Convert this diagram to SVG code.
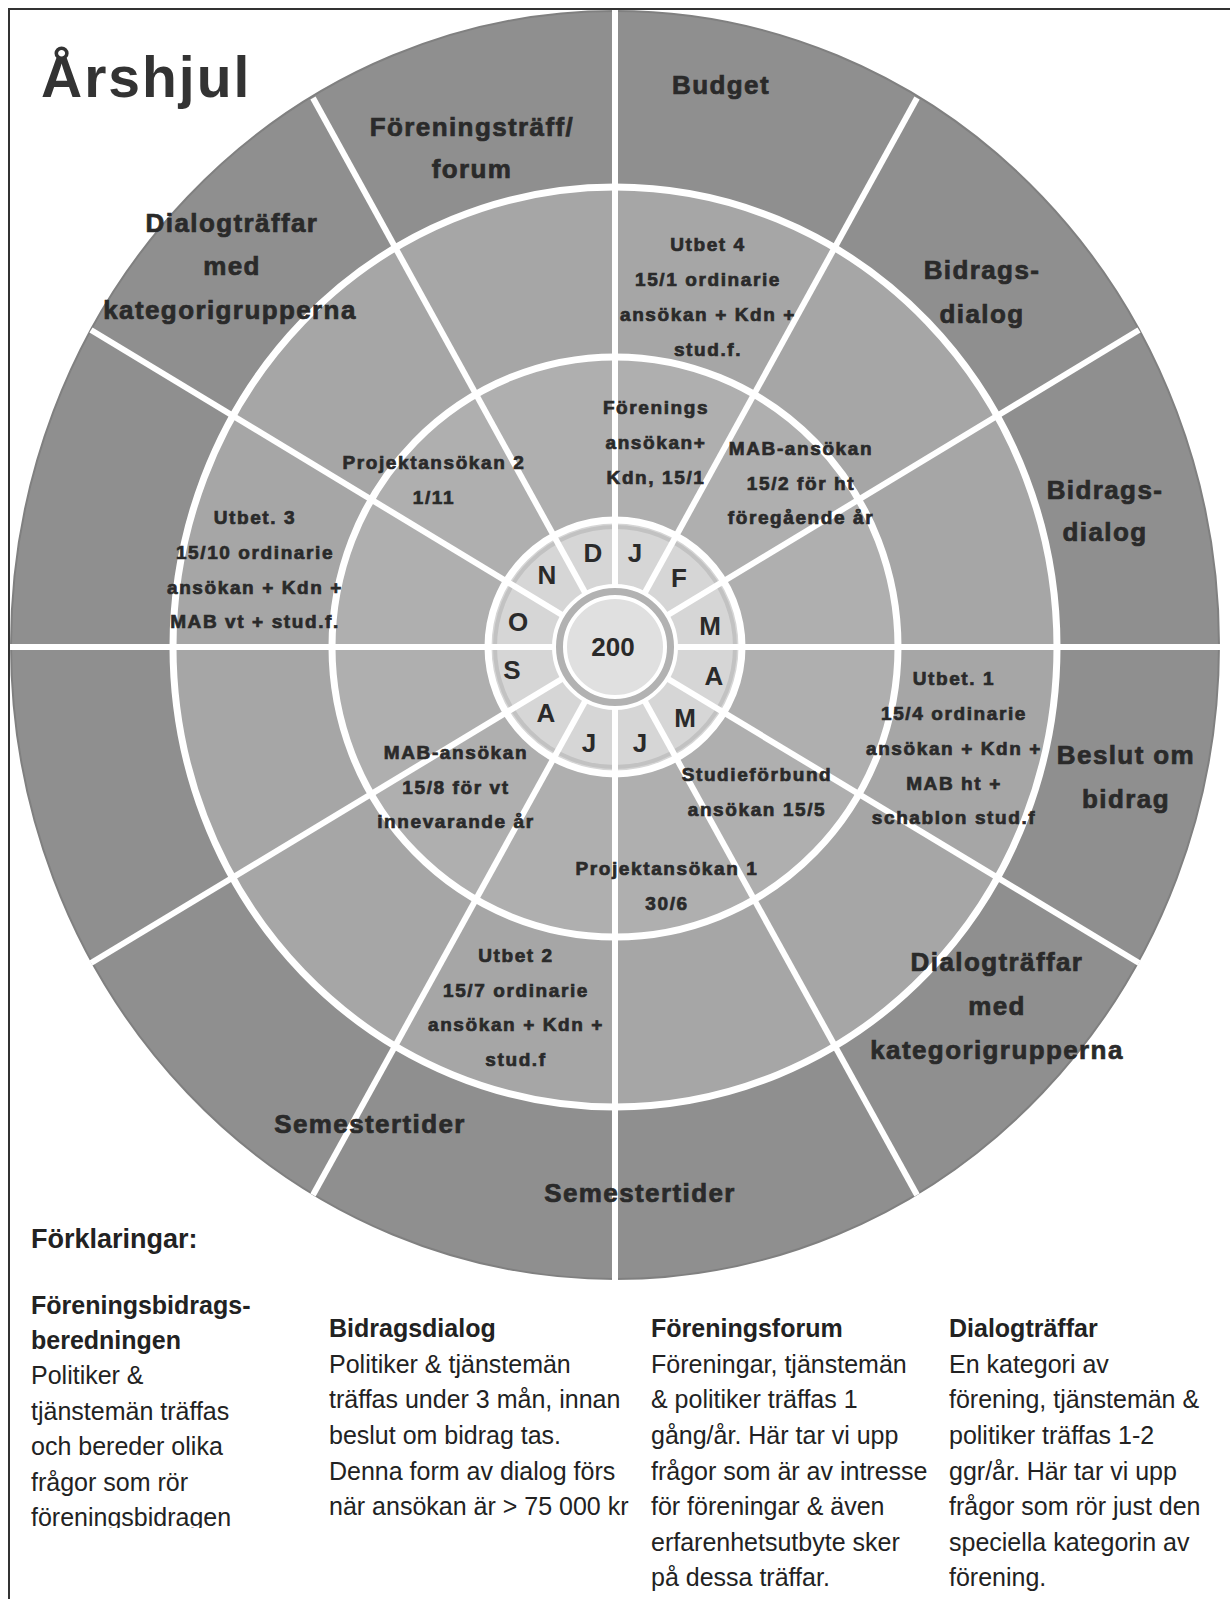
<svg xmlns="http://www.w3.org/2000/svg" width="1230" height="1599" viewBox="0 0 1230 1599">
<style>
text{font-family:"Liberation Sans",Arial,sans-serif;fill:#2a2a2a}
.o{font-size:26px;font-weight:bold;letter-spacing:1.4px;text-anchor:middle;stroke:#2a2a2a;stroke-width:0.7px}
.i{font-size:19px;font-weight:bold;letter-spacing:1.6px;text-anchor:middle;stroke:#2a2a2a;stroke-width:0.7px}
.m{font-size:26px;font-weight:bold;text-anchor:middle}
.lh{font-size:25px;font-weight:bold;fill:#222}
.lb{font-size:25px;fill:#222}
.spoke{stroke:#fff;stroke-width:6}
.ring{fill:none;stroke:#fff;stroke-width:7}
</style>
<defs>
<clipPath id="clip1"><rect x="0" y="1250" width="320" height="278"/></clipPath>
</defs>
<rect width="1230" height="1599" fill="#fff"/>
<g id="wheel">
<ellipse id="outer-ring" cx="615" cy="645" rx="604" ry="634" fill="#8f8f8f" stroke="#808080" stroke-width="2"/>
<ellipse id="ring-2" cx="615" cy="647" rx="442" ry="460" fill="#a6a6a6"/>
<ellipse id="ring-3" cx="615" cy="647" rx="283" ry="290" fill="#afafaf"/>
<circle id="month-ring" cx="615" cy="647" r="127" fill="#d6d6d6"/>
<circle cx="615" cy="647" r="120" fill="none" stroke="#c2c2c2" stroke-width="4"/>
</g>
<g id="connectors">
<line class="spoke" x1="615" y1="647" x2="615" y2="10"/>
<line class="spoke" x1="615" y1="647" x2="917" y2="98"/>
<line class="spoke" x1="615" y1="647" x2="1139" y2="330"/>
<line class="spoke" x1="615" y1="647" x2="1222" y2="647"/>
<line class="spoke" x1="615" y1="647" x2="1139" y2="963"/>
<line class="spoke" x1="615" y1="647" x2="917" y2="1195"/>
<line class="spoke" x1="615" y1="647" x2="615" y2="1282"/>
<line class="spoke" x1="615" y1="647" x2="313" y2="1195"/>
<line class="spoke" x1="615" y1="647" x2="91" y2="963"/>
<line class="spoke" x1="615" y1="647" x2="8" y2="647"/>
<line class="spoke" x1="615" y1="647" x2="91" y2="330"/>
<line class="spoke" x1="615" y1="647" x2="313" y2="98"/>
<ellipse class="ring" cx="615" cy="647" rx="442" ry="460"/>
<ellipse class="ring" cx="615" cy="647" rx="283" ry="290"/>
<circle class="ring" cx="615" cy="647" r="127"/>
</g>
<g id="center">
<circle cx="615" cy="647" r="61" fill="#b2b2b2" stroke="#fff" stroke-width="4"/>
<circle cx="615" cy="647" r="50" fill="#e0e0e0" stroke="#fff" stroke-width="4"/>
<text class="m" x="613" y="656">200</text>
</g>
<g id="months">
<text class="m" x="593" y="562">D</text>
<text class="m" x="635" y="562">J</text>
<text class="m" x="679" y="587">F</text>
<text class="m" x="710" y="635">M</text>
<text class="m" x="714" y="685">A</text>
<text class="m" x="685" y="727">M</text>
<text class="m" x="640" y="752">J</text>
<text class="m" x="589" y="752">J</text>
<text class="m" x="546" y="722">A</text>
<text class="m" x="512" y="679">S</text>
<text class="m" x="518" y="631">O</text>
<text class="m" x="547" y="584">N</text>
</g>
<g id="title"><text x="41" y="97" style="font-size:57px;font-weight:bold;letter-spacing:2px;fill:#333">Årshjul</text></g>
<g id="outer-labels">
<g id="foreningstraff"><text class="o" x="472" y="136">Föreningsträff/</text><text class="o" x="472" y="178">forum</text></g>
<g id="budget"><text class="o" x="721" y="94">Budget</text></g>
<g id="bidragsdialog-1"><text class="o" x="982" y="279">Bidrags-</text><text class="o" x="982" y="323">dialog</text></g>
<g id="bidragsdialog-2"><text class="o" x="1105" y="499">Bidrags-</text><text class="o" x="1105" y="541">dialog</text></g>
<g id="beslut"><text class="o" x="1126" y="764">Beslut om</text><text class="o" x="1126" y="808">bidrag</text></g>
<g id="dialog-se"><text class="o" x="997" y="971">Dialogträffar</text><text class="o" x="997" y="1015">med</text><text class="o" x="997" y="1059">kategorigrupperna</text></g>
<g id="semester-1"><text class="o" x="370" y="1133">Semestertider</text></g>
<g id="semester-2"><text class="o" x="640" y="1202">Semestertider</text></g>
<g id="dialog-nw"><text class="o" x="232" y="232">Dialogträffar</text><text class="o" x="232" y="275">med</text><text class="o" x="230" y="319">kategorigrupperna</text></g>
</g>
<g id="inner-labels">
<g id="utbet4"><text class="i" x="708" y="251">Utbet 4</text><text class="i" x="708" y="286">15/1 ordinarie</text><text class="i" x="708" y="321">ansökan + Kdn +</text><text class="i" x="708" y="356">stud.f.</text></g>
<g id="forenings"><text class="i" x="656" y="414">Förenings</text><text class="i" x="656" y="449">ansökan+</text><text class="i" x="656" y="484">Kdn, 15/1</text></g>
<g id="mab-ht"><text class="i" x="801" y="455">MAB-ansökan</text><text class="i" x="801" y="490">15/2 för ht</text><text class="i" x="801" y="524">föregående år</text></g>
<g id="projekt2"><text class="i" x="434" y="469">Projektansökan 2</text><text class="i" x="434" y="504">1/11</text></g>
<g id="utbet3"><text class="i" x="255" y="524">Utbet. 3</text><text class="i" x="255" y="559">15/10 ordinarie</text><text class="i" x="255" y="594">ansökan + Kdn +</text><text class="i" x="255" y="628">MAB vt + stud.f.</text></g>
<g id="utbet1"><text class="i" x="954" y="685">Utbet. 1</text><text class="i" x="954" y="720">15/4 ordinarie</text><text class="i" x="954" y="755">ansökan + Kdn +</text><text class="i" x="954" y="790">MAB ht +</text><text class="i" x="954" y="824">schablon stud.f</text></g>
<g id="mab-vt"><text class="i" x="456" y="759">MAB-ansökan</text><text class="i" x="456" y="794">15/8 för vt</text><text class="i" x="456" y="828">innevarande år</text></g>
<g id="studieforbund"><text class="i" x="757" y="781">Studieförbund</text><text class="i" x="757" y="816">ansökan 15/5</text></g>
<g id="projekt1"><text class="i" x="667" y="875">Projektansökan 1</text><text class="i" x="667" y="910">30/6</text></g>
<g id="utbet2"><text class="i" x="516" y="962">Utbet 2</text><text class="i" x="516" y="997">15/7 ordinarie</text><text class="i" x="516" y="1031">ansökan + Kdn +</text><text class="i" x="516" y="1066">stud.f</text></g>
</g>
<g id="frame"><path d="M9 1599V9H1230" fill="none" stroke="#333" stroke-width="2"/></g>
<g id="legend">
<text x="31" y="1248" style="font-size:27px;font-weight:bold;fill:#222">Förklaringar:</text>
<g id="legend-1" clip-path="url(#clip1)">
<text class="lh" x="31" y="1314">Föreningsbidrags-</text>
<text class="lh" x="31" y="1349">beredningen</text>
<text class="lb" x="31" y="1384">Politiker &amp;</text>
<text class="lb" x="31" y="1420">tjänstemän träffas</text>
<text class="lb" x="31" y="1455">och bereder olika</text>
<text class="lb" x="31" y="1491">frågor som rör</text>
<text class="lb" x="31" y="1526">föreningsbidragen</text>
</g>
<g id="legend-2">
<text class="lh" x="329" y="1337">Bidragsdialog</text>
<text class="lb" x="329" y="1373">Politiker &amp; tjänstemän</text>
<text class="lb" x="329" y="1408">träffas under 3 mån, innan</text>
<text class="lb" x="329" y="1444">beslut om bidrag tas.</text>
<text class="lb" x="329" y="1480">Denna form av dialog förs</text>
<text class="lb" x="329" y="1515">när ansökan är &gt; 75 000 kr</text>
</g>
<g id="legend-3">
<text class="lh" x="651" y="1337">Föreningsforum</text>
<text class="lb" x="651" y="1373">Föreningar, tjänstemän</text>
<text class="lb" x="651" y="1408">&amp; politiker träffas 1</text>
<text class="lb" x="651" y="1444">gång/år. Här tar vi upp</text>
<text class="lb" x="651" y="1480">frågor som är av intresse</text>
<text class="lb" x="651" y="1515">för föreningar &amp; även</text>
<text class="lb" x="651" y="1551">erfarenhetsutbyte sker</text>
<text class="lb" x="651" y="1586">på dessa träffar.</text>
</g>
<g id="legend-4">
<text class="lh" x="949" y="1337">Dialogträffar</text>
<text class="lb" x="949" y="1373">En kategori av</text>
<text class="lb" x="949" y="1408">förening, tjänstemän &amp;</text>
<text class="lb" x="949" y="1444">politiker träffas 1-2</text>
<text class="lb" x="949" y="1480">ggr/år. Här tar vi upp</text>
<text class="lb" x="949" y="1515">frågor som rör just den</text>
<text class="lb" x="949" y="1551">speciella kategorin av</text>
<text class="lb" x="949" y="1586">förening.</text>
</g>
</g>
</svg>
